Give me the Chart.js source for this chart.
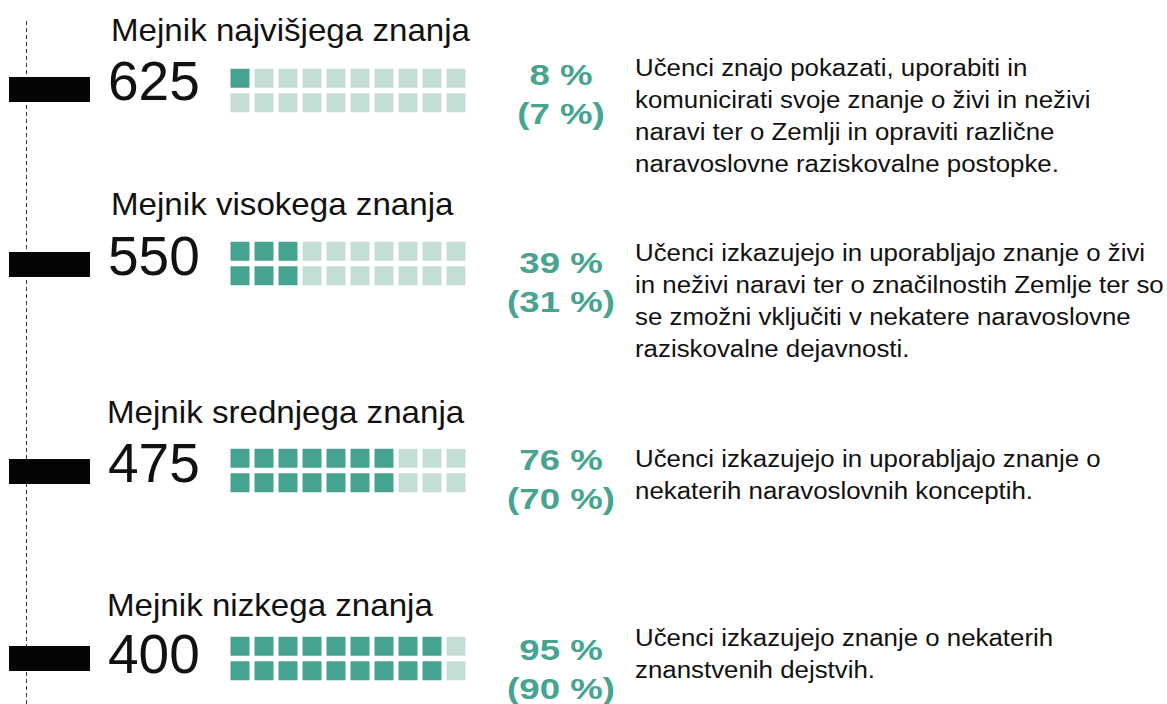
<!DOCTYPE html>
<html>
<head>
<meta charset="utf-8">
<script src="https://cdn.jsdelivr.net/npm/chart.js@4.4.1/dist/chart.umd.min.js"></script>
<style>
    body { margin: 0; background: #fff; }
    #page { position: relative; width: 1167px; height: 704px; overflow: hidden; font-family: Arial, "Liberation Sans", sans-serif; color: #111; }
    .axis { position: absolute; left: 26px; top: 21px; width: 1px; height: 690px; background: repeating-linear-gradient(to bottom, #333 0 4px, transparent 4px 7px); }
    .mark { position: absolute; left: 9px; width: 81px; height: 25px; background: #050505; }
    .title { position: absolute; font-size: 32px; line-height: 36px; white-space: nowrap; transform: scaleX(1.035); transform-origin: left center; }
    .score { position: absolute; left: 108px; font-size: 55px; line-height: 60px; }
    .cells { position: absolute; left: 228px; }
    .pct { position: absolute; left: 481px; width: 160px; text-align: center; font-weight: bold; font-size: 30px; line-height: 39px; color: #46a48f; white-space: nowrap; transform: scaleX(1.22); transform-origin: center center; }
    .desc { position: absolute; left: 635px; font-size: 23.5px; line-height: 32px; white-space: nowrap; transform: scaleX(1.1); transform-origin: left center; }
</style>
</head>
<body>
<div id="page"><div class="axis"></div></div>
<script>
// Benchmarks
const levels = ['Mejnik najvišjega znanja', 'Mejnik visokega znanja', 'Mejnik srednjega znanja', 'Mejnik nizkega znanja'];
const scores = [625, 550, 475, 400];
const pctNow = [8, 39, 76, 95];
const pctPrev = [7, 31, 70, 90];
// filled squares per row (out of 10), as drawn
const filledNow = [1, 3, 7, 9];
const filledPrev = [0, 3, 7, 9];
const cellCount = 10;
const descriptions = [
    ['Učenci znajo pokazati, uporabiti in', 'komunicirati svoje znanje o živi in neživi', 'naravi ter o Zemlji in opraviti različne', 'naravoslovne raziskovalne postopke.'],
    ['Učenci izkazujejo in uporabljajo znanje o živi', 'in neživi naravi ter o značilnostih Zemlje ter so', 'se zmožni vključiti v nekatere naravoslovne', 'raziskovalne dejavnosti.'],
    ['Učenci izkazujejo in uporabljajo znanje o', 'nekaterih naravoslovnih konceptih.'],
    ['Učenci izkazujejo znanje o nekaterih', 'znanstvenih dejstvih.']
];

// block layout (px tops on the page)
const layout = [
    { title: 12.4, titleX: 111, score: 50.5, cells: 66, mark: 77, pct: 54.5, desc: 52.3 },
    { title: 186.2, titleX: 111, score: 226, cells: 239, mark: 252, pct: 242.5, desc: 237 },
    { title: 394, titleX: 107, score: 433, cells: 446, mark: 459, pct: 439.5, desc: 443 },
    { title: 587, titleX: 107, score: 624, cells: 634, mark: 646, pct: 629.5, desc: 622 }
];

const FILL = '#45a38f';
const EMPTY = '#c4ddd6';
const SIDE = 19;

function addEl(cls, top, html, left) {
    const el = document.createElement('div');
    el.className = cls;
    el.style.top = top + 'px';
    if (left !== undefined) el.style.left = left + 'px';
    el.innerHTML = html;
    document.getElementById('page').appendChild(el);
    return el;
}

function cellPoints(nowCount, prevCount, filled) {
    const pts = [];
    [nowCount, prevCount].forEach(function (count, row) {
        for (let i = 0; i < cellCount; i++) {
            if ((i < count) === filled) pts.push({ x: i, y: row });
        }
    });
    return pts;
}

document.addEventListener("DOMContentLoaded", function () {
    levels.forEach(function (name, k) {
        const pos = layout[k];
        addEl('mark', pos.mark, '');
        addEl('title', pos.title, name, pos.titleX);
        addEl('score', pos.score, String(scores[k]));
        addEl('pct', pos.pct, pctNow[k] + ' %<br>(' + pctPrev[k] + ' %)');
        addEl('desc', pos.desc, descriptions[k].join('<br>'));

        const wrap = addEl('cells', pos.cells, '');
        const canvas = document.createElement('canvas');
        canvas.width = 240;
        canvas.height = 49;
        wrap.appendChild(canvas);

        new Chart(canvas, {
            type: 'scatter',
            data: {
                datasets: [{
                    label: 'filled',
                    data: cellPoints(filledNow[k], filledPrev[k], true),
                    backgroundColor: FILL
                }, {
                    label: 'empty',
                    data: cellPoints(filledNow[k], filledPrev[k], false),
                    backgroundColor: EMPTY
                }]
            },
            options: {
                responsive: false,
                animation: false,
                events: [],
                layout: { padding: 0, autoPadding: false },
                elements: {
                    point: { pointStyle: 'rect', radius: SIDE / Math.SQRT2, borderWidth: 0, hoverRadius: SIDE / Math.SQRT2 }
                },
                scales: {
                    x: { type: 'linear', min: -0.5, max: cellCount - 0.5, display: false },
                    y: { type: 'linear', min: -0.5, max: 1.5, reverse: true, display: false }
                },
                plugins: { legend: { display: false }, tooltip: { enabled: false } }
            }
        });
    });
});
</script>
</body>
</html>
